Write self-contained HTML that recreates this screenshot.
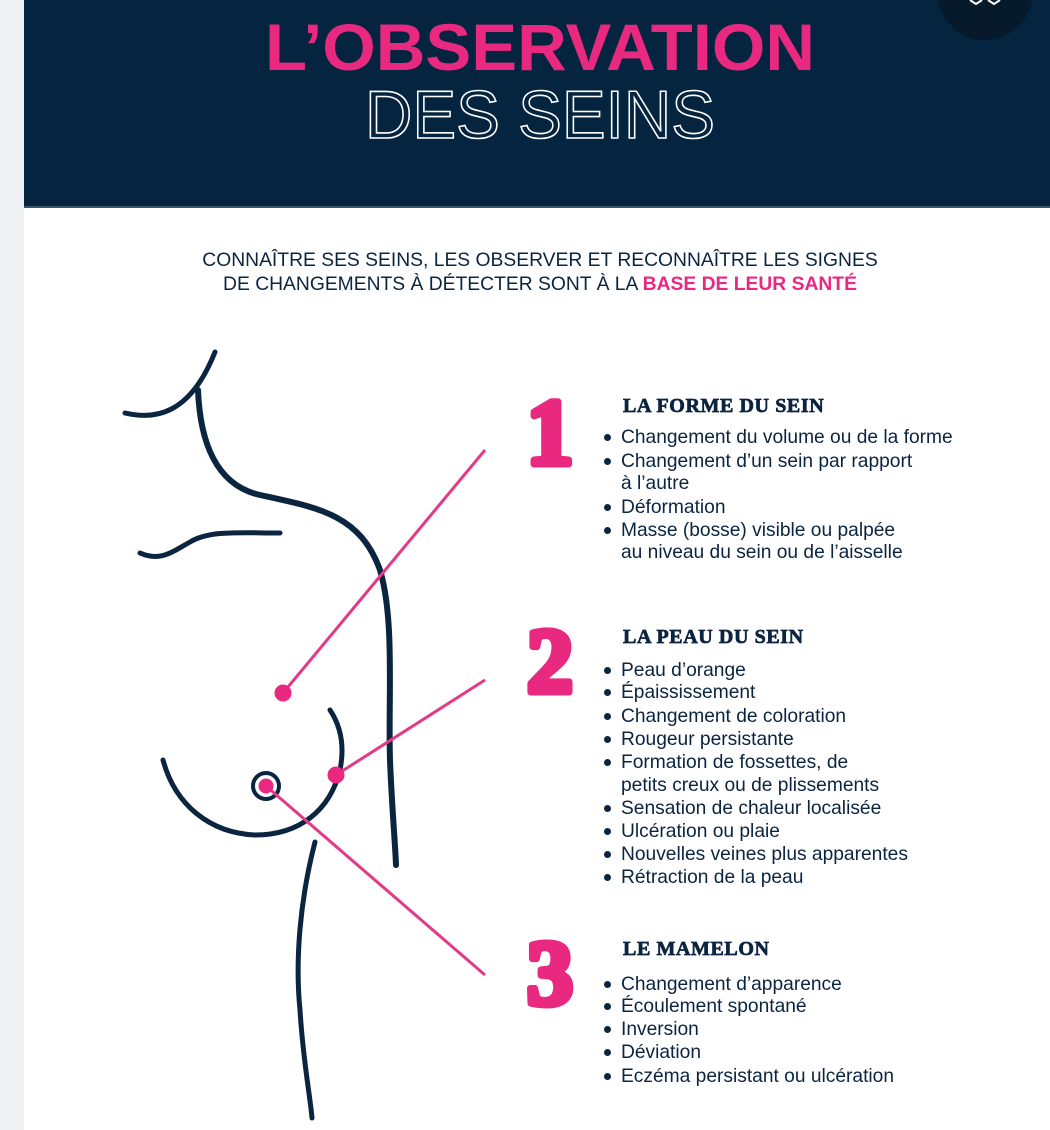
<!DOCTYPE html>
<html><head><meta charset="utf-8"><style>
html,body{margin:0;padding:0;}
body{width:1050px;height:1130px;position:relative;overflow:hidden;background:#fff;font-family:"Liberation Sans",sans-serif;color:#0b2440;}
.strip{position:absolute;left:0;top:0;width:24px;height:1130px;background:#eef0f3;}
.hdr{position:absolute;left:24px;top:0;width:1026px;height:206px;background:#04243f;border-bottom:2px solid #3b5569;}
.t{position:absolute;white-space:nowrap;font-size:19.2px;line-height:23px;}
.h{position:absolute;font-family:"Liberation Serif",serif;font-weight:bold;font-size:20px;letter-spacing:0.6px;white-space:nowrap;-webkit-text-stroke:0.7px #0b2440;}
.b{position:absolute;width:7px;height:7px;border-radius:50%;background:#0b2440;}
.intro{position:absolute;left:24px;width:1032px;text-align:center;font-size:19.3px;line-height:24px;top:249px;}
</style></head><body>
<div class="strip"></div>
<div class="hdr"></div>
<svg style="position:absolute;left:0;top:0" width="1050" height="210">
<circle cx="985" cy="-8" r="48" fill="#061a2c"/>
<path d="M970 0 l6 4 l6 -4 M988 0 l6 4 l6 -4" stroke="#fff" stroke-width="2" fill="none"/>
<text x="540" y="70" text-anchor="middle" font-family="Liberation Sans" font-weight="bold" font-size="66" fill="#e8297f" textLength="550" lengthAdjust="spacingAndGlyphs">L’OBSERVATION</text>
<text x="540" y="138" text-anchor="middle" font-family="Liberation Sans" font-size="68" fill="none" stroke="#fff" stroke-width="1.6" textLength="350" lengthAdjust="spacingAndGlyphs">DES SEINS</text>
</svg>
<div class="intro">CONNAÎTRE SES SEINS, LES OBSERVER ET RECONNAÎTRE LES SIGNES<br>DE CHANGEMENTS À DÉTECTER SONT À LA <b style="color:#e8297f">BASE DE LEUR SANTÉ</b></div>

<svg style="position:absolute;left:0;top:0" width="1050" height="1130">
<g fill="none" stroke="#0b2440" stroke-linecap="round">
<path d="M125 413 C155 420 190 415 215 352" stroke-width="5"/>
<path d="M198 390 C200 440 215 485 260 495 C320 508 360 515 380 570 C395 620 388 700 390 760 C392 810 395 840 396 865" stroke-width="6"/>
<path d="M140 553 C160 562 172 552 190 542 C210 530 240 533 280 533" stroke-width="5"/>
<path d="M163 760 C175 805 210 833 255 835 C300 835 330 810 340 770 C345 745 340 725 330 710" stroke-width="5"/>
<path d="M315 842 C300 900 295 960 300 1010 C303 1060 310 1095 312 1118" stroke-width="5"/>
<circle cx="266" cy="786" r="13" stroke-width="4"/>
</g>
<g stroke="#e23a86" stroke-width="3">
<line x1="485" y1="450" x2="283" y2="693"/>
<line x1="485" y1="680" x2="336" y2="775"/>
<line x1="266" y1="786" x2="485" y2="975"/>
</g>
<g fill="#e8297f" stroke="#e8297f" stroke-width="7" stroke-linejoin="round">
<circle cx="283" cy="693" r="5"/><circle cx="336" cy="775" r="5"/><circle cx="266" cy="786" r="4"/>
<text x="550" y="464" text-anchor="middle" font-family="Liberation Serif" font-weight="bold" font-size="94">1</text>
<text x="550" y="692" text-anchor="middle" font-family="Liberation Serif" font-weight="bold" font-size="92">2</text>
<text x="550" y="1004" text-anchor="middle" font-family="Liberation Serif" font-weight="bold" font-size="92">3</text>
</g>
</svg>

<div class="h" style="left:623px;top:395px">LA FORME DU SEIN</div>
<div class="b" style="left:604px;top:434px"></div><div class="t" style="left:621px;top:426px">Changement du volume ou de la forme</div>
<div class="b" style="left:604px;top:458px"></div><div class="t" style="left:621px;top:450px">Changement d’un sein par rapport</div>
<div class="t" style="left:621px;top:472px">à l’autre</div>
<div class="b" style="left:604px;top:504px"></div><div class="t" style="left:621px;top:496px">Déformation</div>
<div class="b" style="left:604px;top:527px"></div><div class="t" style="left:621px;top:519px">Masse (bosse) visible ou palpée</div>
<div class="t" style="left:621px;top:541px">au niveau du sein ou de l’aisselle</div>

<div class="h" style="left:623px;top:626px">LA PEAU DU SEIN</div>
<div class="b" style="left:604px;top:667px"></div><div class="t" style="left:621px;top:659px">Peau d’orange</div>
<div class="b" style="left:604px;top:689px"></div><div class="t" style="left:621px;top:681px">Épaississement</div>
<div class="b" style="left:604px;top:713px"></div><div class="t" style="left:621px;top:705px">Changement de coloration</div>
<div class="b" style="left:604px;top:736px"></div><div class="t" style="left:621px;top:728px">Rougeur persistante</div>
<div class="b" style="left:604px;top:759px"></div><div class="t" style="left:621px;top:751px">Formation de fossettes, de</div>
<div class="t" style="left:621px;top:774px">petits creux ou de plissements</div>
<div class="b" style="left:604px;top:805px"></div><div class="t" style="left:621px;top:797px">Sensation de chaleur localisée</div>
<div class="b" style="left:604px;top:828px"></div><div class="t" style="left:621px;top:820px">Ulcération ou plaie</div>
<div class="b" style="left:604px;top:851px"></div><div class="t" style="left:621px;top:843px">Nouvelles veines plus apparentes</div>
<div class="b" style="left:604px;top:874px"></div><div class="t" style="left:621px;top:866px">Rétraction de la peau</div>

<div class="h" style="left:623px;top:938px">LE MAMELON</div>
<div class="b" style="left:604px;top:981px"></div><div class="t" style="left:621px;top:973px">Changement d’apparence</div>
<div class="b" style="left:604px;top:1003px"></div><div class="t" style="left:621px;top:995px">Écoulement spontané</div>
<div class="b" style="left:604px;top:1026px"></div><div class="t" style="left:621px;top:1018px">Inversion</div>
<div class="b" style="left:604px;top:1049px"></div><div class="t" style="left:621px;top:1041px">Déviation</div>
<div class="b" style="left:604px;top:1073px"></div><div class="t" style="left:621px;top:1065px">Eczéma persistant ou ulcération</div>
</body></html>
